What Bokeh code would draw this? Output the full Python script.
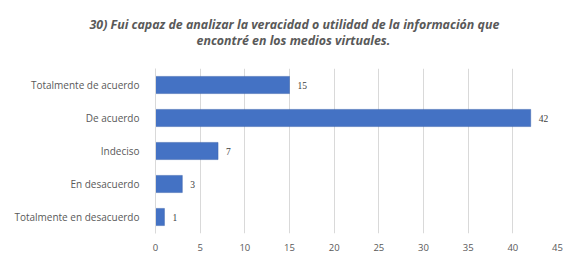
from bokeh.plotting import figure
from bokeh.models import Title, ColumnDataSource, LabelSet, FixedTicker
from bokeh.embed import file_html
from bokeh.resources import INLINE

categories = ["Totalmente en desacuerdo", "En desacuerdo", "Indeciso", "De acuerdo", "Totalmente de acuerdo"]
values = [1, 3, 7, 42, 15]
x_ticks = [0, 5, 10, 15, 20, 25, 30, 35, 40, 45]
title_line1 = "30) Fui capaz de analizar la veracidad o utilidad de la información que"
title_line2 = "encontré en los medios virtuales."

FONT = "Open Sans"

src = ColumnDataSource(dict(cat=categories, val=values, lbl=[str(v) for v in values]))

p = figure(width=564, height=253, y_range=categories, x_range=(0, 45),
           output_backend="svg", toolbar_location=None, title=None,
           min_border_left=155, min_border_right=7, min_border_top=68, min_border_bottom=20)

p.hbar(y="cat", right="val", height=0.52, source=src, fill_color="#4472C4", line_color="#3b63ad", line_width=0.5)

labels = LabelSet(x="val", y="cat", text="lbl", source=src, x_offset=8, text_baseline="middle",
                  text_font_size="9.5px", text_color="#404040", text_font=FONT)
p.add_layout(labels)

# line 2 is added first (closest to the plot), line 1 above it
p.add_layout(Title(text=title_line2, align="left", offset=41, standoff=40, text_font=FONT,
                   text_font_size="12.4px", text_font_style="bold italic", text_color="#595959"), "above")
p.add_layout(Title(text=title_line1, align="left", offset=-66, standoff=-46, text_font=FONT,
                   text_font_size="12.4px", text_font_style="bold italic", text_color="#595959"), "above")

p.xaxis.ticker = FixedTicker(ticks=x_ticks)
p.xaxis.axis_line_color = None
p.xaxis.major_tick_line_color = None
p.xaxis.minor_tick_line_color = None
p.xaxis.major_label_text_font = FONT
p.xaxis.major_label_text_font_size = "9.5px"
p.xaxis.major_label_text_color = "#595959"
p.xaxis.major_label_standoff = 4

p.yaxis.axis_line_color = "#d9d9d9"
p.yaxis.major_tick_line_color = None
p.yaxis.minor_tick_line_color = None
p.yaxis.major_label_text_font = FONT
p.yaxis.major_label_text_font_size = "10px"
p.yaxis.major_label_text_color = "#595959"
p.yaxis.major_label_standoff = 10

p.xgrid.grid_line_color = "#d9d9d9"
p.ygrid.grid_line_color = None
p.outline_line_color = None
p.y_range.range_padding = 0

open("out.html", "w").write(file_html(p, INLINE))
